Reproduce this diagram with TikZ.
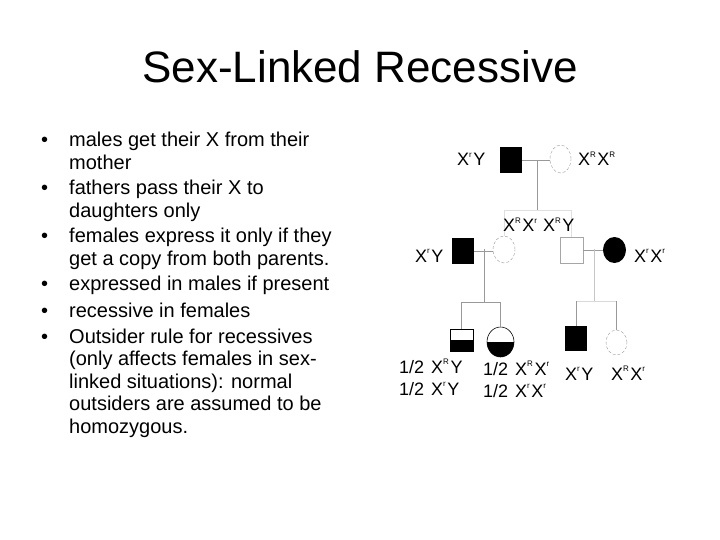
\documentclass[tikz,border=0pt]{standalone}
\usepackage{fontspec}
\setmainfont{Liberation Sans}
\usetikzlibrary{shapes.geometric}
\newcommand{\sups}[1]{\raisebox{8.5pt}{\fontsize{8}{8}\selectfont #1}}
\newcommand{\Xr}{X\sups{r}\hspace{1.5pt}}
\newcommand{\XR}{X\sups{R}\hspace{1.5pt}}
\newcommand{\itemlines}[1]{\parbox[t]{290pt}{\fontsize{20}{22.5}\selectfont\raggedright #1}}
\begin{document}
\begin{tikzpicture}[x=1pt,y=-1pt,
    male/.style={rectangle,minimum width=22pt,minimum height=25pt,inner sep=0pt},
    female/.style={ellipse,minimum width=22pt,minimum height=27pt,inner sep=0pt},
    affected/.style={fill=black},
    normal/.style={draw=gray!70,line width=0.4pt},
    outsider/.style={draw=gray!80,densely dashed,line width=0.4pt},
    half/.style={draw=black,line width=0.6pt,path picture={
        \fill[black] (path picture bounding box.west) rectangle (path picture bounding box.south east);}},
    pline/.style={draw=gray!80,line width=0.6pt},
    faint/.style={draw=gray!25,line width=0.5pt},
    gtype/.style={anchor=base west,inner sep=0pt,font=\fontsize{18}{20}\selectfont},
    item/.style={anchor=base west,inner sep=0pt},
    bulletmark/.style={anchor=base west,inner sep=0pt,font=\fontsize{20}{22.5}\selectfont}]
    \useasboundingbox[fill=white] (0,0) rectangle (720,540);

    % title
    \node (title) [anchor=base,inner sep=0pt,font=\fontsize{44}{48}\selectfont] at (360,83) {Sex-Linked Recessive};

    % bullet list
    \node (b1) [item] at (69,147) {\itemlines{males get their X from their\\mother}};
    \node (b2) [item] at (69,195) {\itemlines{fathers pass their X to\\daughters only}};
    \node (b3) [item] at (69,243) {\itemlines{females express it only if they\\get a copy from both parents.}};
    \node (b4) [item] at (69,290) {\itemlines{expressed in males if present}};
    \node (b5) [item] at (69,317) {\itemlines{recessive in females}};
    \node (b6) [item] at (69,343) {\itemlines{Outsider rule for recessives\\(only affects females in sex-\\linked situations): normal\\outsiders are assumed to be\\homozygous.}};
    \node (m1) [bulletmark] at (41,147) {•};
    \node (m2) [bulletmark] at (41,195) {•};
    \node (m3) [bulletmark] at (41,243) {•};
    \node (m4) [bulletmark] at (41,290) {•};
    \node (m5) [bulletmark] at (41,317) {•};
    \node (m6) [bulletmark] at (41,343) {•};

    % generation I
    \node (g1m) [male,affected,minimum height=26pt] at (511,160) {};
    \node (g1f) [female,outsider,minimum width=21pt,minimum height=28pt] at (560.5,159) {};
    \coordinate (d1) at (537,160);
    \coordinate (d1b) at (537,210);
    \coordinate (s1l) at (504,210);
    \coordinate (s1r) at (571.5,210);

    % generation II
    \node (g2m) [male,affected,minimum height=26pt] at (463,251) {};
    \node (g2f) [female,outsider] at (504,249.5) {};
    \node (g2bm) [male,normal,minimum width=23pt,minimum height=26pt] at (571.5,250) {};
    \node (g2bf) [female,affected,minimum width=23pt,minimum height=26pt] at (614.5,250) {};
    \coordinate (d2) at (484,249);
    \coordinate (d2b) at (484,302);
    \coordinate (s2l) at (461.5,302);
    \coordinate (s2r) at (500.5,302);
    \coordinate (d3) at (594,249);
    \coordinate (d3b) at (594,301);
    \coordinate (s3l) at (576,301);
    \coordinate (s3r) at (616.5,301);

    % generation III
    \node (g3a) [male,half,minimum width=23pt,minimum height=22pt] at (461.5,340) {};
    \node (g3b) [female,half,minimum width=27pt,minimum height=30pt] at (500.5,342) {};
    \node (g3c) [male,affected] at (576,338.5) {};
    \node (g3d) [female,outsider,minimum width=21pt,minimum height=25pt] at (616.5,342.5) {};

    % connectors
    \draw[pline] (g1m.east) -- (g1m.east -| g1f.west);
    \draw[pline] (d1) -- (d1b);
    \draw[faint] (s1l) -- (s1r);
    \draw[faint] (s1l) -- (g2f.north);
    \draw[faint] (s1r) -- (g2bm.north);
    \draw[pline] (g2m.east) -- (g2m.east -| g2f.west);
    \draw[pline] (d2) -- (d2b);
    \draw[pline] (s2l) -- (s2r);
    \draw[pline] (s2l) -- (g3a.north);
    \draw[pline] (s2r) -- (g3b.north);
    \draw[pline] (g2bm.east) -- (g2bm.east -| g2bf.west);
    \draw[pline,draw=gray!45] (d3) -- (d3b);
    \draw[pline,draw=gray!30] (s3l) -- (s3r);
    \draw[pline] (s3l) -- (g3c.north);
    \draw[pline] (s3r) -- (g3d.north);

    % genotypes
    \node (t1m) [gtype] at (457,166) {\Xr Y};
    \node (t1f) [gtype] at (578,166) {\XR\XR};
    \node (t2f) [gtype] at (503,232) {\XR\Xr};
    \node (t2bm) [gtype] at (543,232) {\XR Y};
    \node (t2m) [gtype] at (415,262) {\Xr Y};
    \node (t2bf) [gtype] at (634,262) {\Xr\Xr};
    \node (t3a1) [gtype] at (399,373) {1/2\hspace{7pt}\XR Y};
    \node (t3a2) [gtype] at (399,395) {1/2\hspace{7pt}\Xr Y};
    \node (t3b1) [gtype] at (483,375) {1/2\hspace{7pt}\XR\Xr};
    \node (t3b2) [gtype] at (483,397) {1/2\hspace{7pt}\Xr\Xr};
    \node (t3c) [gtype] at (565,380) {\Xr Y};
    \node (t3d) [gtype] at (611,380) {\XR\Xr};
\end{tikzpicture}
\end{document}
